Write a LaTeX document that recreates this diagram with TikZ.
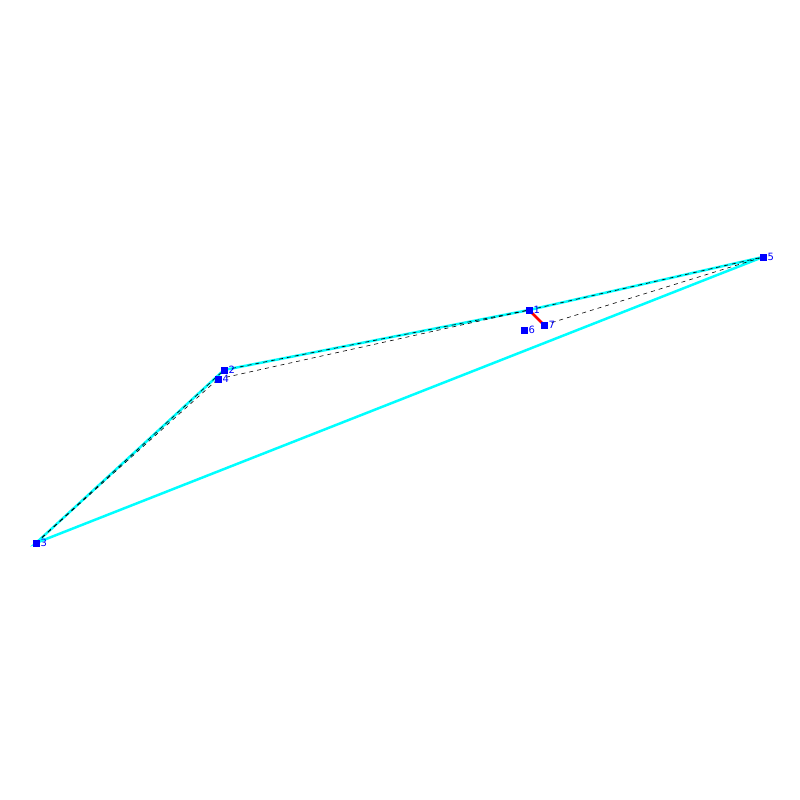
\documentclass[tikz,border=0pt]{standalone}
\usepackage{fontspec}
\setmainfont{DejaVu Sans}
\begin{document}
\begin{tikzpicture}[x=1pt,y=-1pt,
  pt/.style={fill={rgb,255:red,0;green,0;blue,255},minimum size=7pt,inner sep=0pt,outer sep=0pt},
  lab/.style={text={rgb,255:red,0;green,0;blue,255},font=\fontsize{10}{10}\selectfont,inner sep=1pt,anchor=west},
  hull/.style={draw={rgb,255:red,0;green,255;blue,255},line width=2.5pt},
  dsh/.style={draw=black,line width=0.6pt,dash pattern=on 4pt off 4pt},
  redl/.style={draw=red,line width=2.5pt}]
\useasboundingbox (0,0) rectangle (800,800);
\coordinate (c1) at (529,310);
\coordinate (c2) at (224,370);
\coordinate (c3) at (36,543);
\coordinate (c4) at (218,379);
\coordinate (c5) at (763,257);
\coordinate (c6) at (524,330);
\coordinate (c7) at (544,325);
\draw[hull] (c3) -- (c2) -- (c1) -- (c5) -- cycle;
\draw[dsh] (c3) -- (c2);
\draw[dsh] (c3) -- (c4);
\draw[dsh] (c2) -- (c1);
\draw[dsh] (c4) -- (c1);
\draw[dsh] (c1) -- (c5);
\draw[dsh] (c7) -- (c5);
\draw[redl] (c1) -- (c7);
\foreach \i in {1,...,7}{
  \node[pt] (n\i) at (c\i) {};
  \node[lab] (l\i) at (n\i.east) {\i};
}
\end{tikzpicture}
\end{document}
